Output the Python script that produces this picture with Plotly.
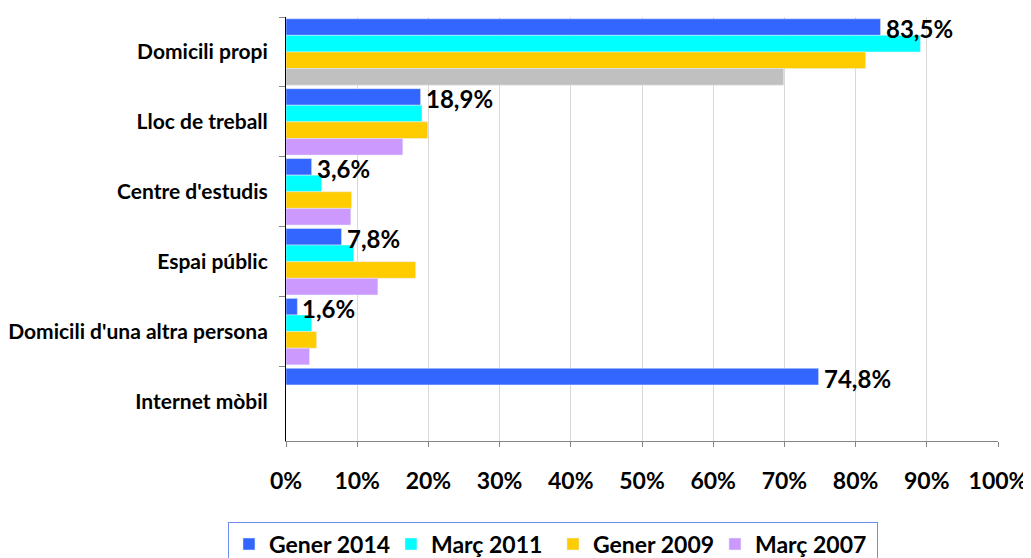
import plotly.graph_objects as go

# Dades (percentatges)
llocs = [
    "Domicili propi",
    "Lloc de treball",
    "Centre d'estudis",
    "Espai públic",
    "Domicili d'una altra persona",
    "Internet mòbil",
]
gener_2014 = [83.5, 18.9, 3.6, 7.8, 1.6, 74.8]
marc_2011 = [89.1, 19.1, 5.0, 9.5, 3.6, None]
gener_2009 = [81.4, 19.9, 9.2, 18.2, 4.3, None]
marc_2007 = [69.9, 16.4, 9.1, 12.9, 3.3, None]

FONT = "Lato, 'Open Sans', sans-serif"


def etiqueta(v):
    return f"{v:.1f}".replace(".", ",") + "%"


fig = go.Figure()

fig.add_trace(go.Bar(
    y=llocs, x=gener_2014, orientation="h", name="Gener 2014",
    marker=dict(color="#3366FF"), offsetgroup="a",
))
fig.add_trace(go.Bar(
    y=llocs, x=marc_2011, orientation="h", name="Març 2011",
    marker=dict(color="#00FFFF"), offsetgroup="b",
))
fig.add_trace(go.Bar(
    y=llocs, x=gener_2009, orientation="h", name="Gener 2009",
    marker=dict(color="#FFCC00"), offsetgroup="c",
))
# la primera barra de 2007 surt en gris a l'original
colors_2007 = ["#C0C0C0"] + ["#CC99FF"] * (len(llocs) - 1)
fig.add_trace(go.Bar(
    y=llocs, x=marc_2007, orientation="h", name="Març 2007",
    marker=dict(color=colors_2007), offsetgroup="d", showlegend=False,
))
# entrada de llegenda amb el color lila
fig.add_trace(go.Bar(
    y=llocs, x=[None] * len(llocs), orientation="h", name="Març 2007",
    marker=dict(color="#CC99FF"), offsetgroup="d",
))

# etiquetes de Gener 2014, per sobre de les barres
for lloc, v in zip(llocs, gener_2014):
    fig.add_annotation(
        x=v, y=lloc, text=etiqueta(v),
        showarrow=False, xanchor="left", yanchor="middle",
        xshift=3, yshift=23,
        font=dict(family=FONT, size=24, color="black", weight="bold"),
    )

# la pàgina té 8 px de marge al body
fig.update_layout(
    width=1023, height=550,
    barmode="group",
    bargap=0.05,
    bargroupgap=0,
    paper_bgcolor="white",
    plot_bgcolor="white",
    font=dict(family=FONT, color="black"),
    margin=dict(l=278, r=33, t=9, b=117, autoexpand=False),
    showlegend=True,
    legend=dict(
        orientation="h",
        x=-0.0815, xanchor="left",
        y=-0.19, yanchor="top",
        bordercolor="#6C8EF0", borderwidth=1,
        font=dict(family=FONT, size=23, weight="bold"),
        entrywidth=117,
        traceorder="normal",
    ),
)

fig.update_xaxes(
    range=[0, 100],
    dtick=10,
    ticksuffix="%",
    showgrid=True,
    gridcolor="#D9D9D9",
    showline=True,
    linecolor="#868686",
    ticks="outside",
    ticklen=5,
    tickcolor="#868686",
    ticklabelstandoff=14,
    tickfont=dict(family=FONT, size=23, weight="bold"),
    zeroline=False,
    automargin=False,
)
fig.update_yaxes(
    type="category",
    autorange="reversed",
    showline=True,
    linecolor="black",
    ticks="outside",
    tickson="boundaries",
    ticklen=6,
    tickcolor="#868686",
    ticklabelstandoff=13,
    tickfont=dict(family=FONT, size=21, weight="bold"),
    automargin=False,
)

fig.write_html("out.html")
